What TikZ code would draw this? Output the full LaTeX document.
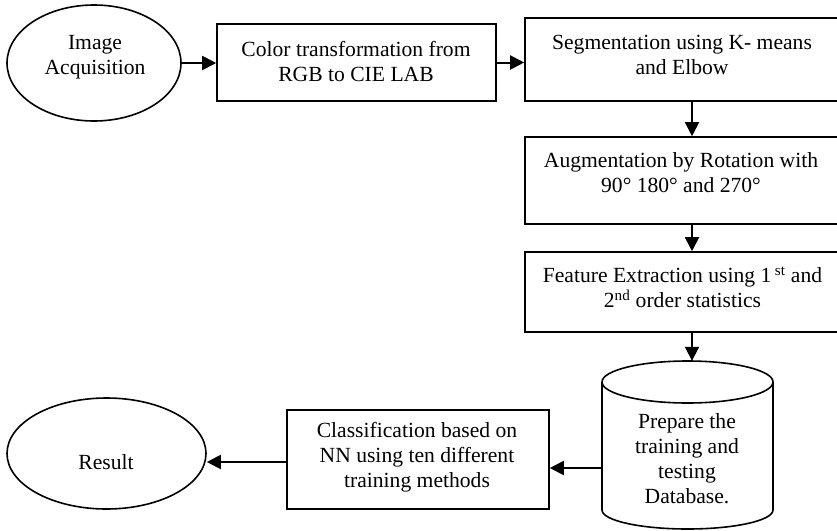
\documentclass[tikz,border=0pt]{standalone}
\usepackage{fontspec}
\setmainfont{Liberation Serif}
\usetikzlibrary{arrows.meta,shapes.geometric}
\begin{document}
\begin{tikzpicture}[x=1pt,y=-1pt,
  every node/.style={font=\fontsize{21.6pt}{25pt}\selectfont},
  stepbox/.style={draw,line width=1.6pt,rectangle,inner sep=0pt},
  oval/.style={draw,line width=1.6pt,ellipse,inner sep=0pt},
  lbl/.style={align=center,inner sep=0pt},
  arr/.style={line width=2pt,-{Triangle[length=14pt,width=14pt]}}]
\useasboundingbox (0,0) rectangle (837,530);
\clip (0,0) rectangle (837,530);

% start / end ellipses
\node[oval,minimum width=174pt,minimum height=116pt] (acq) at (94,63) {};
\node[lbl] (acqT) at (95,57) {Image\\Acquisition};
\node[oval,minimum width=199pt,minimum height=111pt] (res) at (106.5,453.5) {};
\node[lbl] (resT) at (106,462) {Result};

% processing boxes
\node[stepbox,minimum width=279pt,minimum height=77pt] (ct) at (356.5,62.5) {};
\node[lbl] (ctT) at (356,61.5) {Color transformation from\\RGB to CIE LAB};

\node[stepbox,minimum width=325pt,minimum height=83pt] (seg) at (687.5,59.5) {};
\node[lbl] (segT) at (682,54.5) {Segmentation using K- means\\and Elbow};

\node[stepbox,minimum width=325pt,minimum height=87pt] (aug) at (687.5,180.5) {};
\node[lbl] (augT) at (681,172.5) {Augmentation by Rotation with\\90° 180° and 270°};

\node[stepbox,minimum width=325pt,minimum height=80pt] (fe) at (687.5,292) {};
\node[lbl] (feT) at (682.5,287.5) {Feature Extraction using 1\,\textsuperscript{st} and\\2\textsuperscript{nd} order statistics};

\node[stepbox,minimum width=262pt,minimum height=99pt] (cls) at (418,459.5) {};
\node[lbl] (clsT) at (417,457.5) {Classification based on\\NN using ten different\\training methods};

% database cylinder
\node[inner sep=0pt,minimum width=171pt,minimum height=169pt] (db) at (687.5,445.5) {};
\begin{scope}[line width=1.6pt]
  \draw (687.5,382) ellipse[x radius=85.5pt, y radius=21pt];
  \draw (602,382) -- (602,510) arc[start angle=180,end angle=360,x radius=85.5pt,y radius=19pt] -- (773,382);
\end{scope}
\node[lbl] (dbT) at (687,459) {Prepare the\\training and\\testing\\Database.};

% connectors
\draw[arr] (acq.east) -- (acq.east -| ct.west);
\draw[arr] (ct.east) -- (ct.east -| seg.west);
\draw[arr] (seg.south -| fe.north) ++(4.5,0) coordinate (segout) -- (segout |- aug.north);
\draw[arr] (aug.south) ++(4.5,0) coordinate (augout) -- (augout |- fe.north);
\draw[arr] (fe.south) ++(4.5,0) coordinate (feout) -- (feout |- db.north);
\draw[arr] (db.west) ++(0,22.5) coordinate (dbout) -- (dbout -| cls.east);
\draw[arr] (cls.west) ++(0,2.5) coordinate (clsout) -- (clsout -| res.east);
\end{tikzpicture}
\end{document}
